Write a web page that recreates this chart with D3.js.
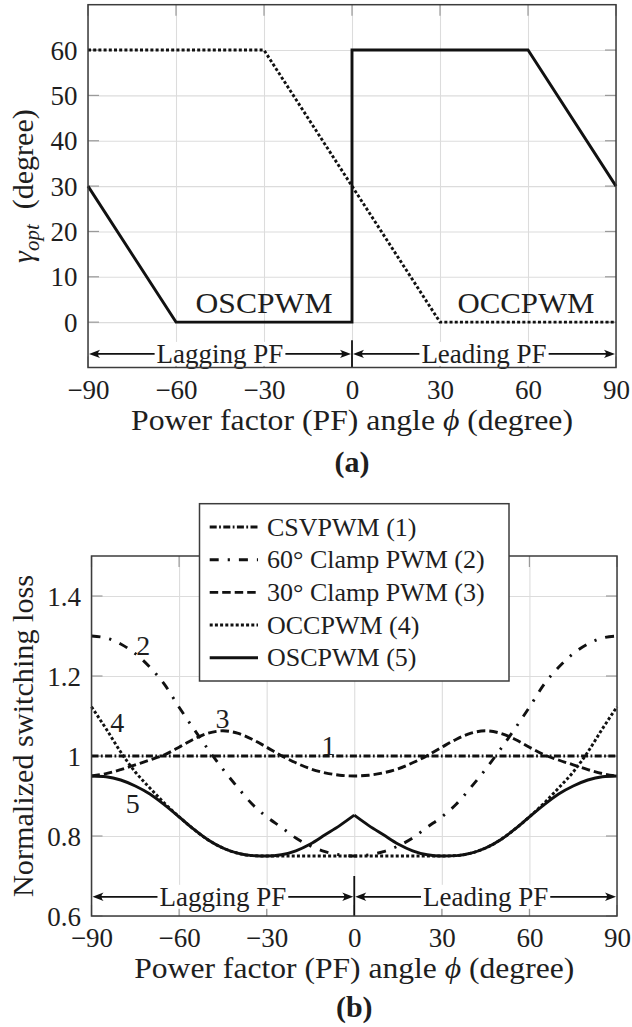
<!DOCTYPE html>
<html><head><meta charset="utf-8">
<script src="https://cdn.jsdelivr.net/npm/d3@7"></script>
<style>
body{margin:0;background:#fff}
svg{display:block}
text{font-family:"Liberation Serif","Times New Roman",serif;fill:#1e1e1e}
</style>
</head><body>
<svg id="c" width="632" height="1027"></svg>
<script>
// ---------- data ----------
const phiTicks = [-90, -60, -30, 0, 30, 60, 90];
const gammaTicks = [0, 10, 20, 30, 40, 50, 60];
const lossTicks = [0.6, 0.8, 1, 1.2, 1.4];

// panel (a): optimal clamp angle
const oscA_phi = [-90, -60, 0, 0, 60, 90];
const oscA_gamma = [30, 0, 0, 60, 60, 30];
const occA_phi = [-90, -30, 30, 90];
const occA_gamma = [60, 60, 0, 0];

// panel (b): normalized switching loss
const phiB = [-90,-85,-80,-75,-70,-65,-60,-55,-50,-45,-40,-35,-30,-25,-20,-15,-10,-5,0,
              5,10,15,20,25,30,35,40,45,50,55,60,65,70,75,80,85,90];
const csvpwm = [1,1,1,1,1,1,1,1,1,1,1,1,1,1,1,1,1,1,1,1,1,1,1,1,1,1,1,1,1,1,1,1,1,1,1,1,1];
const clamp60 = [1.300,1.295,1.280,1.256,1.222,1.179,1.122,1.068,1.016,0.967,0.922,0.880,0.848,0.822,0.795,0.775,0.761,0.753,0.750,
                 0.753,0.761,0.775,0.795,0.822,0.848,0.880,0.922,0.967,1.016,1.068,1.122,1.179,1.222,1.256,1.280,1.295,1.300];
const clamp30 = [0.950,0.956,0.966,0.978,0.990,1.003,1.022,1.042,1.057,1.063,1.057,1.042,1.022,1.001,0.983,0.968,0.958,0.952,0.950,
                 0.952,0.958,0.968,0.983,1.001,1.022,1.042,1.057,1.063,1.057,1.042,1.022,1.003,0.990,0.978,0.966,0.956,0.950];
const occpwm = [1.123,1.068,1.010,0.960,0.920,0.882,0.848,0.817,0.790,0.770,0.757,0.751,0.750,0.750,0.750,0.750,0.750,0.750,0.750,
                0.750,0.750,0.750,0.750,0.750,0.750,0.751,0.757,0.770,0.790,0.817,0.848,0.882,0.920,0.960,1.010,1.068,1.123];
const oscpwm = [0.950,0.948,0.940,0.925,0.905,0.878,0.848,0.817,0.790,0.770,0.757,0.751,0.750,0.753,0.763,0.780,0.803,0.826,0.852,
                0.826,0.803,0.780,0.763,0.753,0.750,0.751,0.757,0.770,0.790,0.817,0.848,0.878,0.905,0.925,0.940,0.948,0.950];

const legendNames = ["CSVPWM (1)", "60° Clamp PWM (2)", "30° Clamp PWM (3)", "OCCPWM (4)", "OSCPWM (5)"];
const curveLabels = ["1", "2", "3", "4", "5"];
const curveLabelPhi = [-8.8, -72.3, -45.1, -81.2, -75.9];
const curveLabelLoss = [1.027, 1.277, 1.094, 1.083, 0.882];

// ---------- styles ----------
const INK = "#111";
const LW = 2.9;
const DOT = "3,2.2";
const dashStyles = ["7,2.4,1.8,2.4", "9,9,2.2,9", "8.5,4", DOT, null];

const svg = d3.select("#c");

function drawFrame(g, x, y, xt, yt) {
  const [x0, x1] = x.range();
  const [y0, y1] = y.range();
  g.append("g").attr("transform", `translate(0,${y0})`)
    .call(d3.axisBottom(x).tickValues(xt).tickSize(-(y0 - y1)).tickFormat(""))
    .call(s => s.select(".domain").remove())
    .call(s => s.selectAll("line").attr("stroke", "#dcdcdc").attr("stroke-width", 1.1));
  g.append("g").attr("transform", `translate(${x0},0)`)
    .call(d3.axisLeft(y).tickValues(yt).tickSize(-(x1 - x0)).tickFormat(""))
    .call(s => s.select(".domain").remove())
    .call(s => s.selectAll("line").attr("stroke", "#dcdcdc").attr("stroke-width", 1.1));
  const tl = 11, tc = "#9a9a9a";
  xt.forEach(v => {
    g.append("line").attr("x1", x(v)).attr("x2", x(v)).attr("y1", y0).attr("y2", y0 - tl).attr("stroke", tc).attr("stroke-width", 1.2);
    g.append("line").attr("x1", x(v)).attr("x2", x(v)).attr("y1", y1).attr("y2", y1 + tl).attr("stroke", tc).attr("stroke-width", 1.2);
  });
  yt.forEach(v => {
    g.append("line").attr("y1", y(v)).attr("y2", y(v)).attr("x1", x0).attr("x2", x0 + tl).attr("stroke", tc).attr("stroke-width", 1.2);
    g.append("line").attr("y1", y(v)).attr("y2", y(v)).attr("x1", x1).attr("x2", x1 - tl).attr("stroke", tc).attr("stroke-width", 1.2);
  });
}

function drawBorder(g, x, y) {
  const [x0, x1] = x.range();
  const [y0, y1] = y.range();
  g.append("rect").attr("x", x0).attr("y", y1).attr("width", x1 - x0).attr("height", y0 - y1)
    .attr("fill", "none").attr("stroke", "#3c3c3c").attr("stroke-width", 1.5);
}

function drawTickLabels(g, x, y, xt, yt, yfmt) {
  const [x0] = x.range();
  const [y0] = y.range();
  g.append("g").attr("transform", `translate(0,${y0})`)
    .call(d3.axisBottom(x).tickValues(xt).tickSize(0).tickPadding(0)
      .tickFormat(d => d < 0 ? "\u2212" + Math.abs(d) : String(d)))
    .call(s => s.select(".domain").remove())
    .call(s => s.selectAll("text").attr("y", 22).attr("dy", "0.34em")
      .attr("font-size", 27).attr("font-family", "Liberation Serif").attr("fill", "#1e1e1e"));
  g.append("g").attr("transform", `translate(${x0},0)`)
    .call(d3.axisLeft(y).tickValues(yt).tickSize(0).tickPadding(0).tickFormat(yfmt))
    .call(s => s.select(".domain").remove())
    .call(s => s.selectAll("text").attr("x", -10.5).attr("dy", "0.34em")
      .attr("font-size", 27).attr("font-family", "Liberation Serif").attr("fill", "#1e1e1e"));
}

function arrowHead(g, xt, yv, dir) {
  const L = 11, W = 4.2;
  g.append("path")
    .attr("d", `M${xt},${yv} L${xt - dir * L},${yv - W} Q${xt - dir * 7},${yv} ${xt - dir * L},${yv + W} Z`)
    .attr("fill", INK);
}

function pfArrows(g, x, yv, yTop, yBottom) {
  const [x0, x1] = x.range();
  const xm = x(0);
  g.append("line").attr("x1", xm).attr("x2", xm).attr("y1", yTop).attr("y2", yBottom)
    .attr("stroke", INK).attr("stroke-width", 1.8);
  [[x0 + 1, xm - 1, "Lagging PF", -45], [xm + 1, x1 - 1, "Leading PF", 45]].forEach(([a, b, t, c]) => {
    g.append("line").attr("x1", a + 6).attr("x2", b - 6).attr("y1", yv).attr("y2", yv).attr("stroke", INK).attr("stroke-width", 1.8);
    arrowHead(g, a, yv, -1);
    arrowHead(g, b, yv, 1);
    const txt = g.append("text").attr("x", x(c)).attr("y", yv).attr("dy", "0.33em")
      .attr("text-anchor", "middle").attr("font-size", 27).text(t);
    const bb = txt.node().getBBox();
    g.insert("rect", function () { return txt.node(); })
      .attr("x", bb.x - 2).attr("y", yv - 12).attr("width", bb.width + 4).attr("height", 24).attr("fill", "#fff");
  });
}

// ================= Panel (a) =================
const xA = d3.scaleLinear().domain([-90, 90]).range([88, 616]);
const yA = d3.scaleLinear().domain([-10, 70]).range([367.5, 4.7]);
const gA = svg.append("g");
drawFrame(gA, xA, yA, phiTicks, gammaTicks);

const lineA = d3.line().x(d => xA(d[0])).y(d => yA(d[1]));
gA.append("path").datum(occA_phi.map((p, i) => [p, occA_gamma[i]])).attr("d", lineA)
  .attr("fill", "none").attr("stroke", INK).attr("stroke-width", LW).attr("stroke-dasharray", DOT);
gA.append("path").datum(oscA_phi.map((p, i) => [p, oscA_gamma[i]])).attr("d", lineA)
  .attr("fill", "none").attr("stroke", INK).attr("stroke-width", LW).attr("stroke-linejoin", "miter");

gA.append("text").attr("x", xA(-30)).attr("y", yA(2)).attr("text-anchor", "middle")
  .attr("font-size", 30).attr("textLength", 137).attr("lengthAdjust", "spacingAndGlyphs").text("OSCPWM");
gA.append("text").attr("x", xA(59.3)).attr("y", yA(2)).attr("text-anchor", "middle")
  .attr("font-size", 30).attr("textLength", 137).attr("lengthAdjust", "spacingAndGlyphs").text("OCCPWM");

pfArrows(gA, xA, yA(-7), yA(-4), yA(-10));
drawBorder(gA, xA, yA);
drawTickLabels(gA, xA, yA, phiTicks, gammaTicks, d => String(d));

svg.append("text").attr("x", (88 + 616) / 2).attr("y", 420).attr("dy", "0.33em").attr("text-anchor", "middle")
  .attr("font-size", 30).attr("textLength", 442).attr("lengthAdjust", "spacingAndGlyphs")
  .html('Power factor (PF) angle <tspan font-style="italic">ϕ</tspan> (degree)');
const ylabA = svg.append("text").attr("transform", `translate(33,${(367.5 + 4.7) / 2}) rotate(-90)`)
  .attr("text-anchor", "middle").attr("font-size", 30);
ylabA.append("tspan").attr("font-style", "italic").text("γ");
ylabA.append("tspan").attr("font-style", "italic").attr("font-size", 21).attr("dy", 6).text("opt");
ylabA.append("tspan").attr("dy", -6).text("\u2002(degree)");
svg.append("text").attr("x", (88 + 616) / 2).attr("y", 462).attr("dy", "0.33em").attr("text-anchor", "middle")
  .attr("font-size", 30).attr("font-weight", "bold").text("(a)");

// ================= Panel (b) =================
const xB = d3.scaleLinear().domain([-90, 90]).range([91.5, 617]);
const yB = d3.scaleLinear().domain([0.6, 1.5]).range([916, 556]);
const gB = svg.append("g");
drawFrame(gB, xB, yB, phiTicks, lossTicks);

const series = [csvpwm, clamp60, clamp30, occpwm, oscpwm];
const lineB = d3.line().x(d => xB(d[0])).y(d => yB(d[1])).curve(d3.curveMonotoneX);
series.forEach((s, k) => {
  const pts = phiB.map((p, i) => [p, s[i]]);
  const parts = k === 4 ? [pts.filter(d => d[0] <= 0), pts.filter(d => d[0] >= 0)] : [pts];
  parts.forEach(part => {
    const p = gB.append("path").datum(part).attr("d", lineB).attr("fill", "none")
      .attr("stroke", INK).attr("stroke-width", LW);
    if (dashStyles[k]) p.attr("stroke-dasharray", dashStyles[k]);
  });
});

curveLabels.forEach((t, i) => {
  gB.append("text").attr("x", xB(curveLabelPhi[i])).attr("y", yB(curveLabelLoss[i])).attr("dy", "0.34em")
    .attr("text-anchor", "middle").attr("font-size", 28).text(t);
});

pfArrows(gB, xB, yB(0.648), yB(0.7), yB(0.6));
drawBorder(gB, xB, yB);
drawTickLabels(gB, xB, yB, phiTicks, lossTicks, d => String(d));

svg.append("text").attr("x", (91.5 + 617) / 2).attr("y", 968).attr("dy", "0.33em").attr("text-anchor", "middle")
  .attr("font-size", 30).attr("textLength", 440).attr("lengthAdjust", "spacingAndGlyphs")
  .html('Power factor (PF) angle <tspan font-style="italic">ϕ</tspan> (degree)');
svg.append("text").attr("transform", `translate(33,${(916 + 556) / 2}) rotate(-90)`)
  .attr("text-anchor", "middle").attr("font-size", 30).attr("textLength", 322).attr("lengthAdjust", "spacingAndGlyphs")
  .text("Normalized switching loss");
svg.append("text").attr("x", (91.5 + 617) / 2).attr("y", 1007).attr("dy", "0.33em").attr("text-anchor", "middle")
  .attr("font-size", 30).attr("font-weight", "bold").text("(b)");

// legend
const lg = svg.append("g");
lg.append("rect").attr("x", 199.5).attr("y", 503.7).attr("width", 309.5).attr("height", 177.3)
  .attr("fill", "#fff").attr("stroke", "#3c3c3c").attr("stroke-width", 1.5);
const legY = d3.scalePoint().domain(legendNames).range([527, 657.7]);
legendNames.forEach((n, k) => {
  const ly = legY(n);
  const l = lg.append("line").attr("x1", 209.7).attr("x2", 258).attr("y1", ly).attr("y2", ly)
    .attr("stroke", INK).attr("stroke-width", LW);
  if (dashStyles[k]) l.attr("stroke-dasharray", dashStyles[k]);
  lg.append("text").attr("x", 267).attr("y", ly).attr("dy", "0.33em").attr("font-size", 26).text(n);
});
</script>
</body></html>
